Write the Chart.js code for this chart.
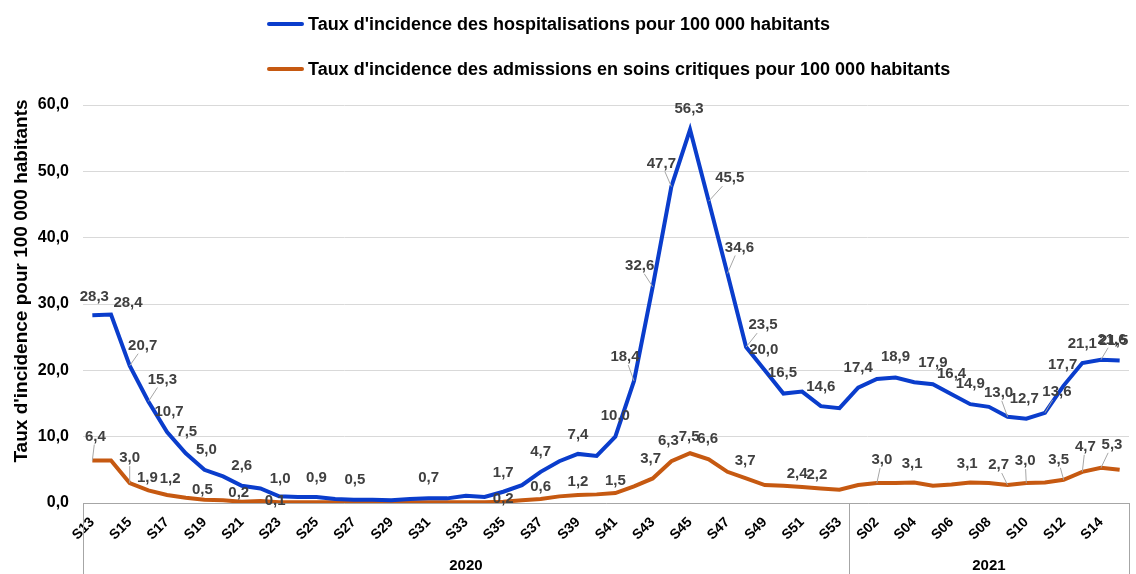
<!DOCTYPE html>
<html lang="fr">
<head>
<meta charset="UTF-8">
<title>Taux d'incidence</title>
<script src="https://cdn.jsdelivr.net/npm/chart.js"></script>
<style>
    html, body { margin: 0; padding: 0; background: #ffffff; }
    .wrap { position: relative; width: 1136px; height: 574px; }
    /* legend, stacked and left aligned like the original */
    .legend { position: absolute; left: 267px; top: 12px; font-family: "Liberation Sans", Arial, sans-serif; font-weight: bold; font-size: 18px; color: #000; }
    .legend div { display: flex; align-items: center; height: 24px; margin-bottom: 21px; }
    .legend span.sw { display: inline-block; width: 37px; height: 4px; margin-right: 4px; border-radius: 2px; }
</style>
</head>
<body>
<div class="wrap">
    <canvas id="chart" width="1136" height="574"></canvas>
    <div class="legend" id="legend"></div>
</div>
<script>
    // weeks S13 2020 -> S15 2021
    var weeks = ['S13', 'S14', 'S15', 'S16', 'S17', 'S18', 'S19', 'S20', 'S21', 'S22', 'S23', 'S24', 'S25', 'S26',
        'S27', 'S28', 'S29', 'S30', 'S31', 'S32', 'S33', 'S34', 'S35', 'S36', 'S37', 'S38', 'S39', 'S40', 'S41',
        'S42', 'S43', 'S44', 'S45', 'S46', 'S47', 'S48', 'S49', 'S50', 'S51', 'S52', 'S53',
        'S01', 'S02', 'S03', 'S04', 'S05', 'S06', 'S07', 'S08', 'S09', 'S10', 'S11', 'S12', 'S13', 'S14', 'S15'];
    var years = ['2020', '2021'];
    var weeksPerYear = [41, 15];

    var hospRate = [28.3, 28.4, 20.7, 15.3, 10.7, 7.5, 5.0, 4.0, 2.6, 2.2, 1.0, 0.9, 0.9, 0.6,
        0.5, 0.5, 0.4, 0.6, 0.7, 0.7, 1.1, 0.9, 1.7, 2.7, 4.7, 6.3, 7.4, 7.1, 10.0,
        18.4, 32.6, 47.7, 56.3, 45.5, 34.6, 23.5, 20.0, 16.5, 16.8, 14.6, 14.3,
        17.4, 18.7, 18.9, 18.2, 17.9, 16.4, 14.9, 14.5, 13.0, 12.7, 13.6, 17.7, 21.1, 21.6, 21.5];
    var critRate = [6.4, 6.4, 3.0, 1.9, 1.2, 0.8, 0.5, 0.4, 0.2, 0.3, 0.1, 0.1, 0.1, 0.1,
        0.1, 0.1, 0.1, 0.1, 0.1, 0.1, 0.1, 0.1, 0.2, 0.4, 0.6, 1.0, 1.2, 1.3, 1.5,
        2.5, 3.7, 6.3, 7.5, 6.6, 4.7, 3.7, 2.7, 2.6, 2.4, 2.2, 2.0,
        2.7, 3.0, 3.0, 3.1, 2.6, 2.8, 3.1, 3.0, 2.7, 3.0, 3.1, 3.5, 4.7, 5.3, 5.0];

    var yTicks = [0, 10, 20, 30, 40, 50, 60];
    var yTitle = "Taux d'incidence pour 100 000 habitants";

    // which points carry a value label: [index, dx, dy, leader line]
    var hospLabelLayout = [[0, 2, -18], [1, 17, -12], [2, 13, -20, 1], [3, 14, -22, 1], [4, 2, -20], [5, 1, -21],
        [6, 2, -20], [8, 0, -20], [10, 1, -18], [12, 0, -19], [14, 1, -20], [18, 0, -20], [22, 0, -19],
        [24, 0, -20], [26, 0, -19], [28, 0, -21], [29, -9, -24, 1], [30, -13, -21, 1], [31, -10, -23, 1],
        [32, -1, -21], [33, 21, -23, 1], [34, 12, -26, 1], [35, 17, -22, 1], [36, -1, -20], [37, -1, -21],
        [39, 0, -19], [41, 0, -20], [43, 0, -21], [45, 0, -21], [46, 0, -20], [47, 0, -20], [49, -9, -24, 1],
        [50, -2, -20], [51, 12, -21, 1], [52, -1, -21], [53, 0, -19], [54, 11, -20, 1], [55, -6, -20]];
    var critLabelLayout = [[0, 3, -24, 1], [2, 0, -25, 1], [3, -1, -13], [4, 3, -16], [6, -2, -10], [8, -3, -9],
        [10, -4, -1], [22, 0, -3], [24, 0, -12], [26, 0, -13], [28, 0, -12], [30, -2, -20], [31, -3, -20],
        [32, -1, -16], [33, -1, -20], [35, -1, -18], [38, -5, -13], [39, -4, -14], [42, 5, -23, 1],
        [44, -2, -19], [47, -3, -19], [49, -9, -20, 1], [50, -1, -22, 1], [52, -5, -20, 1], [53, 3, -25, 1],
        [54, 11, -23, 1]];

    var FONT = '"Liberation Sans", Arial, sans-serif';
    var fmt = function (v) { return v.toFixed(1).replace('.', ','); };

    // value labels with small grey leader lines
    var valueLabels = {
        id: 'valueLabels',
        afterDatasetsDraw: function (chart) {
            var ctx = chart.ctx;
            var layouts = [hospLabelLayout, critLabelLayout];
            ctx.save();
            ctx.font = 'bold 15px ' + FONT;
            ctx.textAlign = 'center';
            ctx.textBaseline = 'middle';
            chart.data.datasets.forEach(function (ds, i) {
                var meta = chart.getDatasetMeta(i);
                layouts[i].forEach(function (l) {
                    var pt = meta.data[l[0]];
                    var x = pt.x + l[1], y = pt.y + l[2];
                    if (l[3]) {
                        ctx.strokeStyle = '#a6a6a6';
                        ctx.lineWidth = 1;
                        ctx.beginPath();
                        ctx.moveTo(x - l[1] * 0.35, y + 8);
                        ctx.lineTo(pt.x, pt.y);
                        ctx.stroke();
                    }
                    ctx.fillStyle = '#404040';
                    ctx.fillText(fmt(ds.data[l[0]]), x, y);
                });
            });
            ctx.restore();
        }
    };

    // year groups under the week axis + the y title (sits a bit above centre in the original)
    var yearGroups = {
        id: 'yearGroups',
        afterDraw: function (chart) {
            var ctx = chart.ctx, xs = chart.scales.x, area = chart.chartArea;
            var bottom = chart.height;
            var edges = [area.left];
            var start = 0;
            weeksPerYear.forEach(function (n) {
                start += n;
                if (start < weeks.length) {
                    edges.push((xs.getPixelForValue(start - 1) + xs.getPixelForValue(start)) / 2);
                } else {
                    edges.push(area.right);
                }
            });
            ctx.save();
            ctx.strokeStyle = '#a6a6a6';
            ctx.lineWidth = 1;
            edges.forEach(function (e) {
                ctx.beginPath();
                ctx.moveTo(Math.round(e) + 0.5, area.bottom);
                ctx.lineTo(Math.round(e) + 0.5, bottom);
                ctx.stroke();
            });
            ctx.fillStyle = '#000';
            ctx.font = 'bold 15px ' + FONT;
            ctx.textAlign = 'center';
            ctx.textBaseline = 'middle';
            years.forEach(function (yr, i) {
                ctx.fillText(yr, (edges[i] + edges[i + 1]) / 2, 566);
            });

            ctx.translate(22, (area.top + area.bottom) / 2 - 23);
            ctx.rotate(-Math.PI / 2);
            ctx.font = 'bold 19px ' + FONT;
            ctx.fillText(yTitle, 0, 0);
            ctx.restore();
        }
    };

    var chart = new Chart(document.getElementById('chart').getContext('2d'), {
        type: 'line',
        data: {
            labels: weeks,
            datasets: [{
                label: "Taux d'incidence des hospitalisations pour 100 000 habitants",
                data: hospRate,
                borderColor: '#0a3dcc',
                borderWidth: 4,
                pointRadius: 0,
                tension: 0,
                fill: false
            }, {
                label: "Taux d'incidence des admissions en soins critiques pour 100 000 habitants",
                data: critRate,
                borderColor: '#c65911',
                borderWidth: 4,
                pointRadius: 0,
                tension: 0,
                fill: false
            }]
        },
        options: {
            responsive: false,
            animation: false,
            layout: { padding: { top: 105, right: 7, left: 0, bottom: 0 } },
            plugins: {
                legend: { display: false },
                tooltip: { enabled: false }
            },
            scales: {
                x: {
                    offset: true,
                    grid: { display: false },
                    border: { display: true, color: '#a6a6a6', width: 1 },
                    ticks: {
                        autoSkip: false,
                        minRotation: 45,
                        maxRotation: 45,
                        padding: 3,
                        color: '#000',
                        font: { family: FONT, size: 14, weight: 'bold' },
                        callback: function (v, i) { return i % 2 === 0 ? weeks[i] : ''; }
                    },
                    afterFit: function (s) { s.height = 71; }
                },
                y: {
                    min: 0,
                    max: 60,
                    afterBuildTicks: function (s) { s.ticks = yTicks.map(function (v) { return { value: v }; }); },
                    grid: { color: '#d9d9d9', drawTicks: false },
                    border: { display: false },
                    ticks: {
                        padding: 14,
                        color: '#000',
                        font: { family: FONT, size: 16, weight: 'bold' },
                        callback: function (v) { return fmt(v); }
                    },
                    afterFit: function (s) { s.width = 83; }
                }
            }
        },
        plugins: [valueLabels, yearGroups]
    });

    // legend built from the datasets
    var legend = document.getElementById('legend');
    chart.data.datasets.forEach(function (ds) {
        var row = document.createElement('div');
        var sw = document.createElement('span');
        sw.className = 'sw';
        sw.style.background = ds.borderColor;
        row.appendChild(sw);
        row.appendChild(document.createTextNode(ds.label));
        legend.appendChild(row);
    });
</script>
</body>
</html>
